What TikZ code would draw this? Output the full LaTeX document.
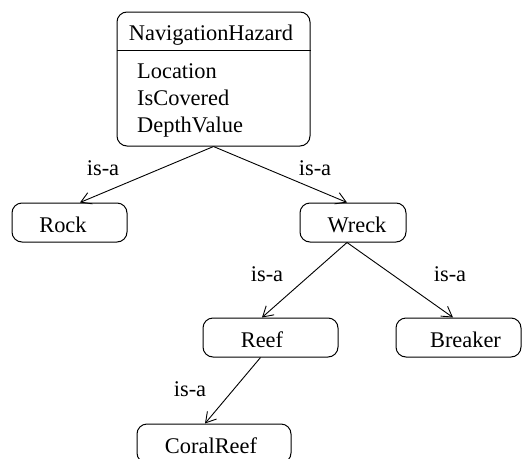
\documentclass[tikz,border=0pt]{standalone}
\usepackage{fontspec}
\setmainfont{Liberation Serif}
\usetikzlibrary{arrows.meta}
\begin{document}
\begin{tikzpicture}[x=1pt,y=-1pt,
  font=\fontsize{22.4}{27}\selectfont,
  box/.style={draw, rounded corners=10pt, line width=1pt, inner sep=0pt, minimum height=39pt},
  txt/.style={yshift=-2pt},
  isa/.style={draw, line width=0.9pt, -{Straight Barb[length=10pt,width=12pt]}},
  lbl/.style={anchor=base, inner sep=0pt}]
\useasboundingbox (0,0) rectangle (522,458);
\clip (0,0) rectangle (522,458);
% class box
\node[box, minimum width=193pt, minimum height=134pt] (nh) at (213.5,79) {};
\draw[line width=1pt] (nh.west |- 0,50) -- (nh.east |- 0,50);
\node[lbl] (nht) at (211,40) {NavigationHazard};
\node[lbl, anchor=base west] (a1) at (137,78) {Location};
\node[lbl, anchor=base west] (a2) at (137,105) {IsCovered};
\node[lbl, anchor=base west] (a3) at (137,132) {DepthValue};
% subclass boxes
\node[box, minimum width=115pt, label={[txt,xshift=-6.5pt]center:Rock}] (rock) at (69.5,222.5) {};
\node[box, minimum width=106pt, label={[txt,xshift=4pt]center:Wreck}] (wreck) at (353,222.5) {};
\node[box, minimum width=135pt, label={[txt,xshift=-8.5pt]center:Reef}] (reef) at (270.5,337.5) {};
\node[box, minimum width=125pt, label={[txt,xshift=7pt]center:Breaker}] (breaker) at (458.5,337.5) {};
\node[box, minimum width=154pt, label={[txt,xshift=-3pt]center:CoralReef}] (coral) at (214,443.5) {};
% connectors
\draw[isa] (nh.south) -- ([xshift=10.5pt]rock.north);
\draw[isa] (nh.south) -- ([xshift=-6pt]wreck.north);
\draw[isa] ([xshift=-6pt]wreck.south) -- ([xshift=-8.5pt]reef.north);
\draw[isa] ([xshift=-6pt]wreck.south) -- ([xshift=-5.5pt]breaker.north);
\draw[isa] ([xshift=-10pt]reef.south) -- ([xshift=-9pt]coral.north);
% labels
\node[lbl] (l1) at (103,175) {is-a};
\node[lbl] (l2) at (315,175) {is-a};
\node[lbl] (l3) at (267,281) {is-a};
\node[lbl] (l4) at (450,281) {is-a};
\node[lbl] (l5) at (190,396) {is-a};
\end{tikzpicture}
\end{document}
